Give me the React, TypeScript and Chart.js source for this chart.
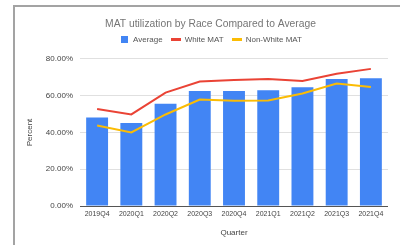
import React, { useEffect, useRef } from "react";
import { Chart, registerables } from "chart.js";

Chart.register(...registerables);

const quarters = ["2019Q4", "2020Q1", "2020Q2", "2020Q3", "2020Q4", "2021Q1", "2021Q2", "2021Q3", "2021Q4"];
const averageValues = [48.1, 45.1, 55.6, 62.6, 62.6, 63.0, 64.6, 69.1, 69.5];
const whiteValues = [52.8, 49.8, 61.7, 67.7, 68.6, 69.1, 68.0, 71.9, 74.6];
const nonWhiteValues = [43.8, 40.0, 49.8, 57.9, 57.2, 57.4, 61.2, 66.6, 64.8];
const yTicks = [0, 20, 40, 60, 80];

const FONT = "'Liberation Sans', Arial, sans-serif";

function swatch(w: number, h: number, color: string) {
  const c = document.createElement("canvas");
  c.width = w;
  c.height = h;
  const g = c.getContext("2d");
  if (g) {
    g.fillStyle = color;
    g.fillRect(0, 0, w, h);
  }
  return c;
}

const legendExtraSpace = {
  id: "legendExtraSpace",
  beforeInit(chart: any) {
    const lg = chart.legend;
    if (lg && !lg.__patched) {
      const orig = lg.fit;
      lg.fit = function (this: any) {
        orig.call(this);
        this.height += 5.3;
      };
      lg.__patched = true;
    }
  },
};

export default function App() {
  const ref = useRef<HTMLCanvasElement | null>(null);
  useEffect(() => {
    if (!ref.current) return;
    Chart.defaults.font.family = FONT;
    const swatches = [swatch(7, 7, "#4285F4"), swatch(10, 3, "#EA4335"), swatch(10, 3, "#FBBC04")];
    const chart = new Chart(ref.current, {
      type: "bar",
      data: {
        labels: quarters,
        datasets: [
          {
            label: "Average",
            data: averageValues,
            backgroundColor: "#4285F4",
            borderWidth: 0,
            barPercentage: 0.64,
            categoryPercentage: 1,
            order: 2,
          } as any,
          {
            type: "line",
            label: "White MAT",
            data: whiteValues,
            borderColor: "#EA4335",
            backgroundColor: "#EA4335",
            borderWidth: 2,
            pointRadius: 0,
            tension: 0,
            order: 1,
          },
          {
            type: "line",
            label: "Non-White MAT",
            data: nonWhiteValues,
            borderColor: "#FBBC04",
            backgroundColor: "#FBBC04",
            borderWidth: 2,
            pointRadius: 0,
            tension: 0,
            order: 0,
          },
        ],
      },
      plugins: [legendExtraSpace],
      options: {
        animation: false,
        responsive: false,
        maintainAspectRatio: false,
        layout: { padding: { top: 14, left: 21, right: 0, bottom: 7 } },
        plugins: {
          title: {
            display: true,
            text: "MAT utilization by Race Compared to Average",
            color: "#757575",
            font: { size: 10.3, weight: "normal" },
            padding: { top: 3.8, bottom: -2.5 },
          },
          legend: {
            display: true,
            position: "top",
            labels: {
              usePointStyle: true,
              boxHeight: 8,
              pointStyleWidth: 10,
              color: "#555",
              font: { size: 8 },
              padding: 8,
              generateLabels: (c: any) =>
                c.data.datasets.map((ds: any, i: number) => ({
                  text: ds.label,
                  fillStyle: ds.backgroundColor,
                  strokeStyle: ds.backgroundColor,
                  lineWidth: 0,
                  pointStyle: swatches[i],
                  fontColor: "#555",
                  hidden: false,
                  datasetIndex: i,
                })),
            },
          },
          tooltip: { enabled: false },
        },
        scales: {
          x: {
            grid: { display: false, drawTicks: false },
            border: { display: false },
            ticks: { color: "#444", font: { size: 7 }, padding: 4, maxRotation: 0, autoSkip: false },
            title: { display: true, text: "Quarter", color: "#444", font: { size: 8 }, padding: { top: 6, bottom: 0 } },
          },
          y: {
            min: 0,
            max: 80,
            afterBuildTicks: (s: any) => {
              s.ticks = yTicks.map((v) => ({ value: v }));
            },
            afterFit: (s: any) => {
              s.width = 59;
            },
            grid: {
              drawTicks: false,
              color: (ctx: any) => (ctx.tick && ctx.tick.value === 0 ? "#555" : "#e0e0e0"),
              lineWidth: 1,
            },
            border: { display: false },
            ticks: {
              color: "#444",
              font: { size: 8 },
              padding: 7,
              callback: (v: any) => Number(v).toFixed(2) + "%",
            },
            title: { display: true, text: "Percent", color: "#444", font: { size: 8 }, padding: { top: 4, bottom: 4 } },
          },
          yRight: {
            position: "right",
            display: true,
            min: 0,
            max: 80,
            grid: { display: false, drawTicks: false },
            border: { display: false },
            ticks: { display: false },
            afterFit: (s: any) => {
              s.width = 12;
            },
          },
        },
      } as any,
    });
    return () => chart.destroy();
  }, []);
  return (
    <div style={{ position: "absolute", left: 0, top: 0, width: 400, height: 245, background: "#fff", overflow: "hidden" }}>
      <canvas ref={ref} width={400} height={245} style={{ display: "block" }} />
      <div
        style={{
          position: "absolute",
          left: 13,
          top: 5,
          width: 400,
          height: 260,
          borderLeft: "2px solid #a3a3a3",
          borderTop: "2px solid #a3a3a3",
          pointerEvents: "none",
        }}
      />
    </div>
  );
}
